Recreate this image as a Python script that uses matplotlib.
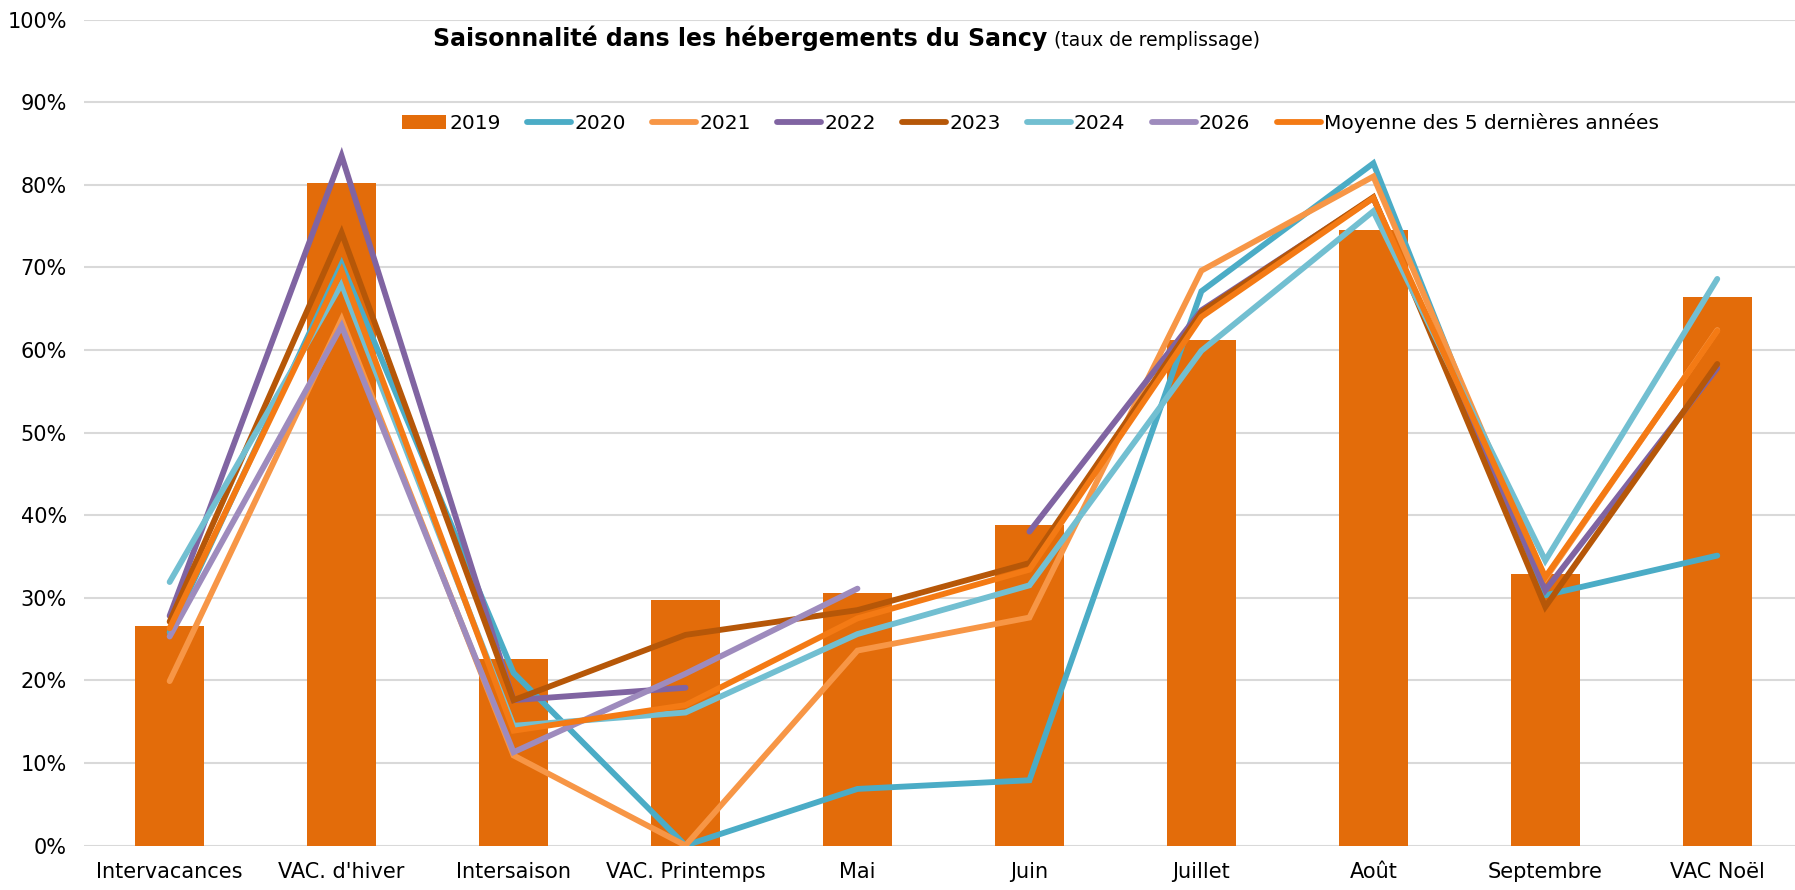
import numpy as np
import matplotlib
matplotlib.use('Agg')
import matplotlib.pyplot as plt
from matplotlib.ticker import PercentFormatter, MultipleLocator

plt.rcParams['font.family'] = ['DejaVu Sans']

categories = ['Intervacances', "VAC. d'hiver", 'Intersaison', 'VAC. Printemps', 'Mai',
              'Juin', 'Juillet', 'Août', 'Septembre', 'VAC Noël']

nan = np.nan
y2019 = [26.6, 80.2, 22.6, 29.7, 30.6, 38.8, 61.2, 74.5, 32.9, 66.4]
y2020 = [25.8, 70.4, 20.9, 0.0, 6.85, 7.9, 67.1, 82.6, 30.3, 35.1]
y2021 = [19.9, 63.7, 10.9, 0.0, 23.6, 27.6, 69.6, 81.0, 32.3, 62.4]
y2022 = [27.8, 83.5, 17.6, 19.1, nan, 38.0, 64.8, 78.4, 30.9, 57.8]
y2023 = [27.1, 74.2, 17.6, 25.5, 28.5, 34.2, 64.6, 78.5, 28.9, 58.3]
y2024 = [31.9, 68.0, 14.5, 16.1, 25.6, 31.5, 59.9, 76.8, 34.5, 68.6]
y2026 = [25.3, 62.9, 11.3, 20.8, 31.1, nan, nan, nan, nan, nan]
moyenne = [26.3, 69.6, 13.9, 17.0, 27.5, 33.4, 64.0, 78.4, 32.5, 62.3]

fig = plt.figure(figsize=(17.95, 8.9), dpi=100)
ax = fig.add_axes([0.0466, 0.050, 0.958, 0.928])

x = np.arange(len(categories))
bars = ax.bar(x, np.array(y2019) / 100, width=0.4, color='#E36C0A', label='2019', zorder=2)
handles = [bars]

lines = [
    (y2020, '#4BACC6', '2020'),
    (y2021, '#F79646', '2021'),
    (y2022, '#8064A2', '2022'),
    (y2023, '#B65708', '2023'),
    (y2024, '#72BFD1', '2024'),
    (y2026, '#9E8BBD', '2026'),
    (moyenne, '#F47A14', 'Moyenne des 5 dernières années'),
]
for vals, col, lab in lines:
    ln, = ax.plot(x, np.array(vals) / 100, color=col, lw=4.2, label=lab,
                  solid_capstyle='round', solid_joinstyle='miter', zorder=3)
    handles.append(ln)

ax.set_xlim(-0.5, len(categories) - 0.5)
ax.set_ylim(0, 1)
ax.yaxis.set_major_locator(MultipleLocator(0.1))
ax.yaxis.set_major_formatter(PercentFormatter(1.0, decimals=0))
ax.grid(axis='y', color='#D9D9D9', lw=1.5, zorder=0)
ax.set_axisbelow(True)
for s in ax.spines.values():
    s.set_visible(False)
ax.tick_params(length=0, labelsize=15, pad=12)
ax.set_xticks(x)
ax.set_xticklabels(categories)

t = fig.text(0.241, 0.957, 'Saisonnalité dans les hébergements du Sancy',
             fontsize=17, fontweight='bold', va='center', ha='left')
ax.annotate('(taux de remplissage)', xy=(1, 0), xycoords=t, xytext=(5, 1),
            textcoords='offset points', fontsize=13.5, va='bottom', ha='left')

fig.legend(handles=handles, labels=[h.get_label() for h in handles],
           loc='center', bbox_to_anchor=(0.574, 0.862), ncol=8, frameon=False,
           fontsize=14.5, handlelength=2.2, handletextpad=0.15, columnspacing=1.3)

fig.savefig('out.png', dpi=100)
